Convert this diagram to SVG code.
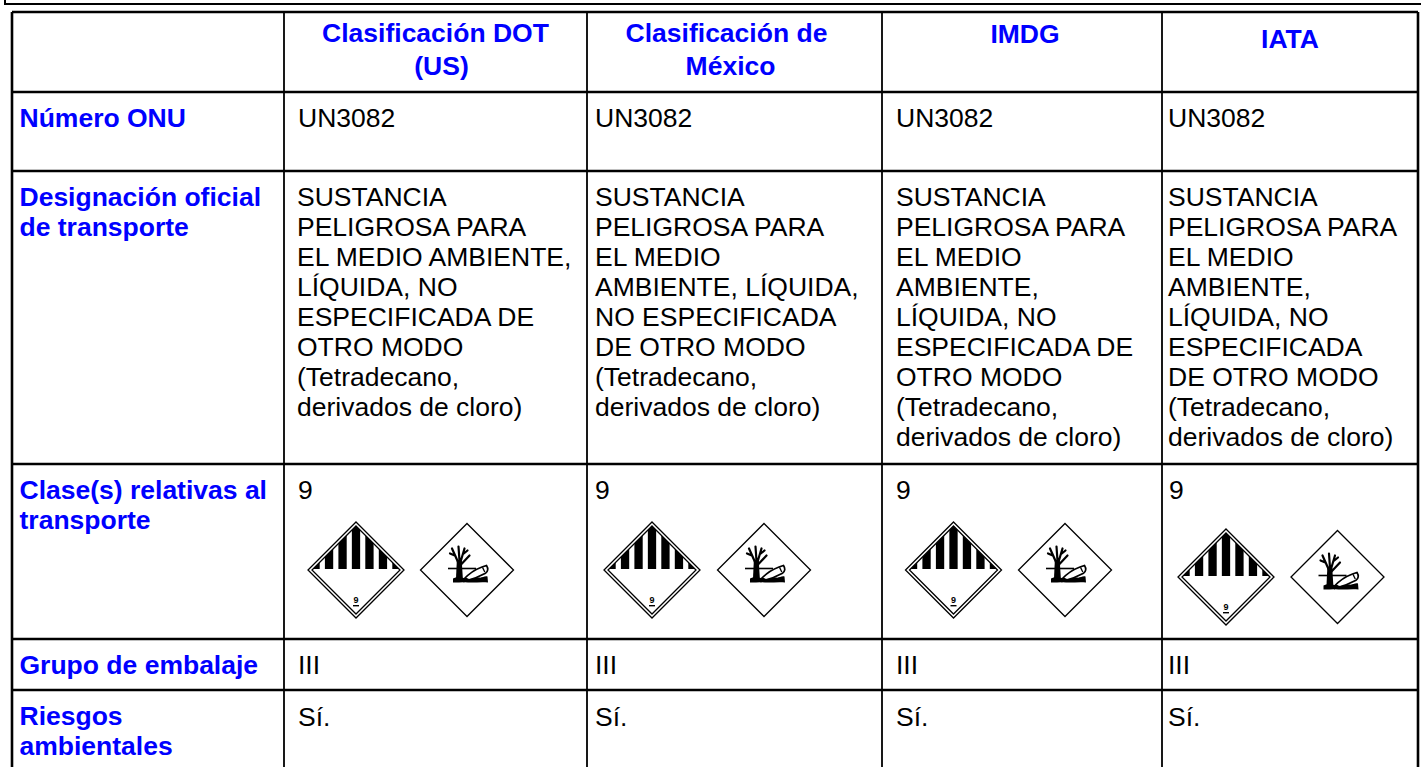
<svg xmlns="http://www.w3.org/2000/svg" width="1421" height="767" viewBox="0 0 1421 767">
<style>
.lbl{font-family:"Liberation Sans",Arial,sans-serif;font-size:26.5px;font-weight:bold;fill:#0000FF}
.hd{font-family:"Liberation Sans",Arial,sans-serif;font-size:26.5px;font-weight:bold;fill:#0000FF;text-anchor:middle}
.txt{font-family:"Liberation Sans",Arial,sans-serif;font-size:26.5px;fill:#000}
.hl{stroke:#000;stroke-width:2.6;fill:none}
.vl{stroke:#000;stroke-width:1.8;fill:none}
.ol{stroke:#000;stroke-width:2.6;fill:none}
.br{stroke:#000;stroke-width:2.2;stroke-linecap:round;fill:none}
</style>
<defs>
<clipPath id="c9clip"><polygon points="0,-44 44,0 0,44 -44,0"/></clipPath>
<g id="class9">
<polygon points="0,-48 48,0 0,48 -48,0" fill="#fff" stroke="#000" stroke-width="1.3"/>
<polygon points="0,-44 44,0 0,44 -44,0" fill="none" stroke="#000" stroke-width="1.3"/>
<g clip-path="url(#c9clip)" fill="#000">
<rect x="-44.6" y="-48" width="8.3" height="47"/>
<rect x="-31.1" y="-48" width="8.3" height="47"/>
<rect x="-17.6" y="-48" width="8.3" height="47"/>
<rect x="-4.15" y="-48" width="8.3" height="47"/>
<rect x="9.3" y="-48" width="8.3" height="47"/>
<rect x="22.8" y="-48" width="8.3" height="47"/>
<rect x="36.3" y="-48" width="8.3" height="47"/>
</g>
<text x="0" y="33" font-family="Liberation Sans,Arial,sans-serif" font-size="9" font-weight="bold" text-anchor="middle" fill="#000">9</text>
<rect x="-3" y="35" width="6" height="1.4" fill="#000"/>
</g>
<g id="envhaz">
<polygon points="0,-46.5 46.5,0 0,46.5 -46.5,0" fill="#fff" stroke="#000" stroke-width="1.3"/>
<path d="M-11,8 L-10.2,-9 L-5.2,-9 L-4.2,8 Z" fill="#000"/>
<path class="br" d="M-9,-8 L-15,-21.5 M-12.2,-14.5 L-17,-16.5 M-7.5,-9 L-8.5,-23.5 M-6.5,-8 L-2.5,-21.5 M-3.8,-16 L0.5,-19.5 M-5.5,-6 L2.5,-14.5"/>
<path d="M-19,-1.5 H9" stroke="#000" stroke-width="1.6"/>
<path d="M-4,10 C1,4.5 8,-0.5 15,-3 L19.5,-4.5 C21.5,-1.5 21,1.8 18.5,3.2 C12,6.8 5,9.5 -3,11.5 Z" fill="#fff" stroke="#000" stroke-width="1.7"/>
<path d="M15.5,-2.6 L17.8,2" stroke="#000" stroke-width="1.3"/>
<path d="M-14,8.5 C-9,5.5 -4,8.5 0,8 C3,10.5 9,7 12,7.5 C15,8.2 17,5.8 20.5,6.5 L21,12.5 C14,11.8 6,13 -2,12.3 C-6,12 -10,12.8 -14,12.5 Z" fill="#000"/>
</g>
</defs>

<path d="M5,0 V4 H1421" stroke="#000" stroke-width="2" fill="none"/>

<g id="connectors">
<path class="hl" d="M12,12 H1418 M12,92 H1418 M12,171 H1418 M12,464 H1418 M12,639 H1418 M12,690 H1418"/>
<path class="ol" d="M12,12 V767 M1418,12 V767"/>
<path class="vl" d="M284,12 V767 M587,12 V767 M882,12 V767 M1162,12 V767"/>
</g>

<g id="header">
<text class="hd" x="435.5" y="42">Clasificación DOT</text>
<text class="hd" x="441.5" y="75">(US)</text>
<text class="hd" x="726.5" y="42">Clasificación de</text>
<text class="hd" x="730.5" y="75">México</text>
<text class="hd" x="1025" y="43">IMDG</text>
<text class="hd" x="1290" y="48">IATA</text>
</g>

<g id="row-onu">
<text class="lbl" x="19.5" y="127">Número ONU</text>
<text class="txt" x="298" y="127">UN3082</text>
<text class="txt" x="595" y="127">UN3082</text>
<text class="txt" x="896" y="127">UN3082</text>
<text class="txt" x="1168" y="127">UN3082</text>
</g>

<g id="row-designacion">
<text class="lbl" x="19.5" y="206">Designación oficial</text>
<text class="lbl" x="19.5" y="236">de transporte</text>
<text class="txt" x="297" y="206">SUSTANCIA</text>
<text class="txt" x="297" y="236">PELIGROSA PARA</text>
<text class="txt" x="297" y="266">EL MEDIO AMBIENTE,</text>
<text class="txt" x="297" y="296">LÍQUIDA, NO</text>
<text class="txt" x="297" y="326">ESPECIFICADA DE</text>
<text class="txt" x="297" y="356">OTRO MODO</text>
<text class="txt" x="297" y="386">(Tetradecano,</text>
<text class="txt" x="297" y="416">derivados de cloro)</text>
<text class="txt" x="595" y="206">SUSTANCIA</text>
<text class="txt" x="595" y="236">PELIGROSA PARA</text>
<text class="txt" x="595" y="266">EL MEDIO</text>
<text class="txt" x="595" y="296">AMBIENTE, LÍQUIDA,</text>
<text class="txt" x="595" y="326">NO ESPECIFICADA</text>
<text class="txt" x="595" y="356">DE OTRO MODO</text>
<text class="txt" x="595" y="386">(Tetradecano,</text>
<text class="txt" x="595" y="416">derivados de cloro)</text>
<text class="txt" x="896" y="206">SUSTANCIA</text>
<text class="txt" x="896" y="236">PELIGROSA PARA</text>
<text class="txt" x="896" y="266">EL MEDIO</text>
<text class="txt" x="896" y="296">AMBIENTE,</text>
<text class="txt" x="896" y="326">LÍQUIDA, NO</text>
<text class="txt" x="896" y="356">ESPECIFICADA DE</text>
<text class="txt" x="896" y="386">OTRO MODO</text>
<text class="txt" x="896" y="416">(Tetradecano,</text>
<text class="txt" x="896" y="446">derivados de cloro)</text>
<text class="txt" x="1168" y="206">SUSTANCIA</text>
<text class="txt" x="1168" y="236">PELIGROSA PARA</text>
<text class="txt" x="1168" y="266">EL MEDIO</text>
<text class="txt" x="1168" y="296">AMBIENTE,</text>
<text class="txt" x="1168" y="326">LÍQUIDA, NO</text>
<text class="txt" x="1168" y="356">ESPECIFICADA</text>
<text class="txt" x="1168" y="386">DE OTRO MODO</text>
<text class="txt" x="1168" y="416">(Tetradecano,</text>
<text class="txt" x="1168" y="446">derivados de cloro)</text>
</g>

<g id="row-clase">
<text class="lbl" x="19.5" y="499">Clase(s) relativas al</text>
<text class="lbl" x="19.5" y="529">transporte</text>
<text class="txt" x="298" y="499">9</text>
<text class="txt" x="595" y="499">9</text>
<text class="txt" x="896" y="499">9</text>
<text class="txt" x="1169" y="499">9</text>
<use href="#class9" transform="translate(356,570)"/>
<use href="#envhaz" transform="translate(467,570)"/>
<use href="#class9" transform="translate(652,570)"/>
<use href="#envhaz" transform="translate(764,570)"/>
<use href="#class9" transform="translate(953.5,570)"/>
<use href="#envhaz" transform="translate(1065,570)"/>
<use href="#class9" transform="translate(1226,577)"/>
<use href="#envhaz" transform="translate(1337.5,577)"/>
</g>

<g id="row-grupo">
<text class="lbl" x="19.5" y="674">Grupo de embalaje</text>
<text class="txt" x="298" y="674">III</text>
<text class="txt" x="595" y="674">III</text>
<text class="txt" x="896" y="674">III</text>
<text class="txt" x="1168" y="674">III</text>
</g>

<g id="row-riesgos">
<text class="lbl" x="19.5" y="725">Riesgos</text>
<text class="lbl" x="19.5" y="755">ambientales</text>
<text class="txt" x="298" y="726">Sí.</text>
<text class="txt" x="595" y="726">Sí.</text>
<text class="txt" x="896" y="726">Sí.</text>
<text class="txt" x="1168" y="726">Sí.</text>
</g>
</svg>
